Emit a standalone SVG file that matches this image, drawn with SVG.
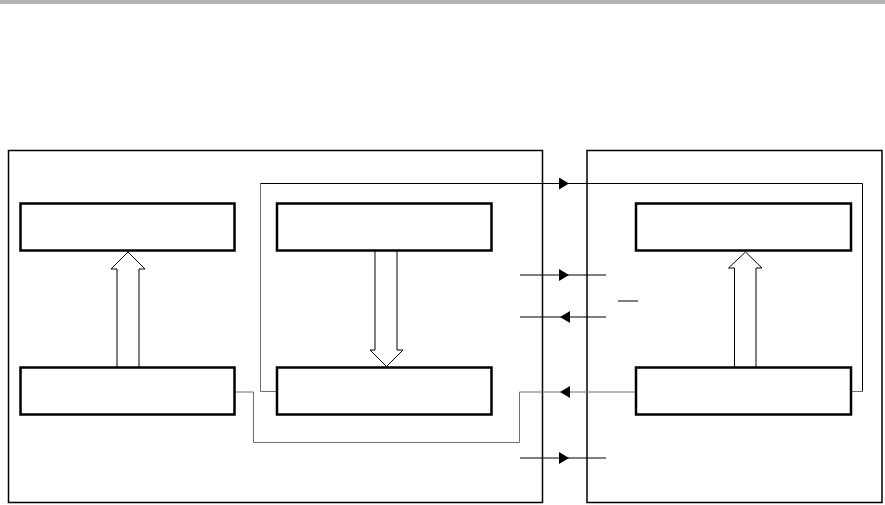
<svg xmlns="http://www.w3.org/2000/svg" width="885" height="505" viewBox="0 0 885 505">
<style>
.outer{fill:none;stroke:#000;stroke-width:1.5}
.blk{fill:#fff;stroke:#000;stroke-width:2.5}
.wire{fill:none;stroke:#000;stroke-width:1}
.gwire{fill:none;stroke:#6e6e6e;stroke-width:1}
.big{fill:#fff;stroke:#000;stroke-width:1}
</style>
<defs>
<marker id="ah" viewBox="0 0 10 12" refX="10" refY="6" markerWidth="10" markerHeight="12" markerUnits="userSpaceOnUse" orient="auto">
<path d="M0,0 L10,6 L0,12 Z" fill="#000"/>
</marker>
</defs>
<rect x="0" y="0" width="885" height="4" fill="#b3b3b3"/>
<g id="left-panel"><rect class="outer" x="8.5" y="150.5" width="534" height="352"/></g>
<g id="right-panel"><rect class="outer" x="587" y="150.5" width="295" height="352"/></g>
<g id="connectors">
<path class="gwire" d="M277,391.5 H260.5 V183.5"/>
<path class="wire" d="M260.5,183.5 H569" marker-end="url(#ah)"/>
<path class="wire" d="M569,183.5 H862.5 V391.5"/>
<path class="gwire" d="M862.5,391.5 H851"/>
<path class="gwire" d="M235,392 H253.5 V442.5 H519.5 V392 H560"/>
<path class="gwire" d="M636,392 H560" marker-end="url(#ah)"/>
<path class="wire" d="M520,275 H569" marker-end="url(#ah)"/>
<path class="wire" d="M569,275 H606"/>
<path class="wire" d="M606,317 H560" marker-end="url(#ah)"/>
<path class="wire" d="M560,317 H520"/>
<path class="wire" d="M520,458 H569" marker-end="url(#ah)"/>
<path class="wire" d="M569,458 H606"/>
<path class="wire" d="M618,301 H638"/>
<path class="big" d="M117,367 V269 H111 L128,252 L145,269 H139 V367"/>
<path class="big" d="M375,251 V350 H370 L386.5,366.5 L403,350 H397 V251"/>
<path class="big" d="M734.5,367 V268 H728.5 L745.5,252 L762,268 H756 V367"/>
</g>
<g id="box-a"><rect class="blk" x="20.5" y="203.5" width="214" height="47"/></g>
<g id="box-b"><rect class="blk" x="277" y="203.5" width="214.5" height="47"/></g>
<g id="box-c"><rect class="blk" x="636" y="203.5" width="215" height="47"/></g>
<g id="box-d"><rect class="blk" x="20.5" y="367.5" width="214" height="47"/></g>
<g id="box-e"><rect class="blk" x="277" y="367.5" width="214.5" height="47"/></g>
<g id="box-f"><rect class="blk" x="636" y="367.5" width="215" height="47"/></g>
</svg>
